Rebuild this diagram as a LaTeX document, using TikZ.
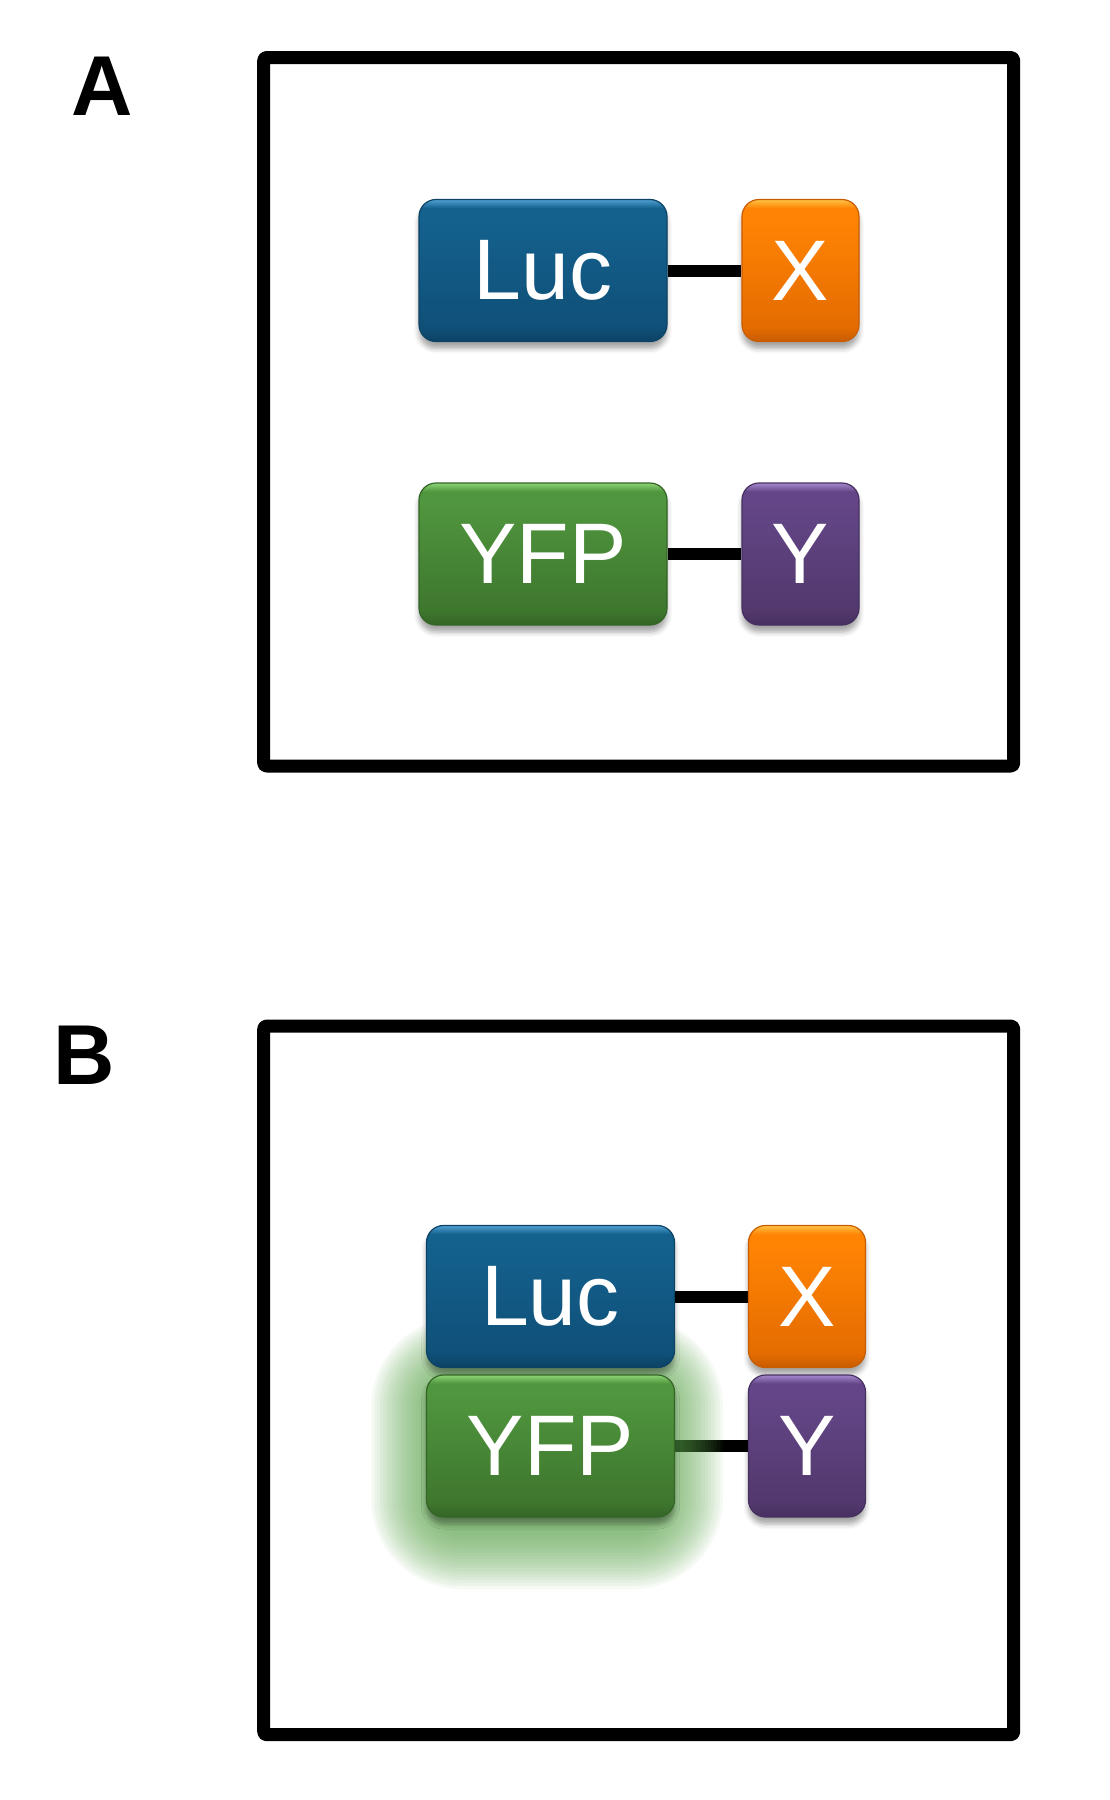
\documentclass[tikz,border=0pt]{standalone}
\usepackage{fontspec}
\setmainfont{Liberation Sans}
\usetikzlibrary{shadows.blur}

\definecolor{lucdark}{RGB}{12,66,100}
\definecolor{lucbot}{RGB}{15,80,120}
\definecolor{lucmain}{RGB}{20,97,142}
\definecolor{luclight}{RGB}{80,160,210}
\definecolor{xdark}{RGB}{200,92,0}
\definecolor{xbot}{RGB}{228,108,0}
\definecolor{xmain}{RGB}{255,132,4}
\definecolor{xlight}{RGB}{255,195,70}
\definecolor{yfpdark}{RGB}{52,100,38}
\definecolor{yfpbot}{RGB}{62,118,46}
\definecolor{yfpmain}{RGB}{80,150,62}
\definecolor{yfplight}{RGB}{140,212,118}
\definecolor{ydark}{RGB}{70,48,96}
\definecolor{ybot}{RGB}{82,56,108}
\definecolor{ymain}{RGB}{100,70,136}
\definecolor{ylight}{RGB}{165,135,205}
\definecolor{glowgreen}{RGB}{90,162,74}

\pgfdeclareverticalshading{lucshade}{100bp}{color(0bp)=(lucdark); color(25bp)=(lucdark); color(30bp)=(lucbot); color(68bp)=(lucmain); color(72bp)=(lucmain); color(75bp)=(luclight); color(100bp)=(luclight)}
\pgfdeclareverticalshading{xshade}{100bp}{color(0bp)=(xdark); color(25bp)=(xdark); color(30bp)=(xbot); color(68bp)=(xmain); color(72bp)=(xmain); color(75bp)=(xlight); color(100bp)=(xlight)}
\pgfdeclareverticalshading{yfpshade}{100bp}{color(0bp)=(yfpdark); color(25bp)=(yfpdark); color(30bp)=(yfpbot); color(68bp)=(yfpmain); color(72bp)=(yfpmain); color(75bp)=(yfplight); color(100bp)=(yfplight)}
\pgfdeclareverticalshading{yshade}{100bp}{color(0bp)=(ydark); color(25bp)=(ydark); color(30bp)=(ybot); color(68bp)=(ymain); color(72bp)=(ymain); color(75bp)=(ylight); color(100bp)=(ylight)}

\pgfdeclarelayer{lines}
\pgfdeclarelayer{glow}
\pgfsetlayers{lines,glow,main}

\tikzset{
    panel/.style={draw=black, line width=13pt, line join=round, rounded corners=3pt},
    panellabel/.style={font=\fontsize{85}{85}\selectfont\bfseries, inner sep=0pt},
    protbox/.style={rounded corners=17pt, inner sep=0pt, minimum height=142pt, text=white,
        font=\fontsize{86}{86}\selectfont,
        blur shadow={shadow xshift=0pt, shadow yshift=-7pt, shadow blur radius=5pt, shadow opacity=35}},
    lucbox/.style={protbox, minimum width=248pt, shading=lucshade, draw=lucdark, line width=1.2pt},
    yfpbox/.style={protbox, minimum width=248pt, shading=yfpshade, draw=yfpdark, line width=1.2pt},
    xbox/.style={protbox, minimum width=117pt, shading=xshade, draw=xdark, line width=1.2pt},
    ybox/.style={protbox, minimum width=117pt, shading=yshade, draw=ydark, line width=1.2pt},
    glowlayer/.style={fill=glowgreen, opacity=0.06}
}

\begin{document}
\begin{tikzpicture}[x=1pt, y=-1pt]
    \useasboundingbox (0,0) rectangle (1110,1800);

    % panel A
    \node[panellabel] (labA) at (102,86.5) {A};
    \draw[panel] (263.7,57.5) rectangle (1013.7,766);
    \node[lucbox] (luc1) at (543,270.5) {Luc};
    \node[xbox] (x1) at (800.5,270.5) {X};
    \node[yfpbox] (yfp1) at (543,554) {YFP};
    \node[ybox] (y1) at (800.5,554) {Y};

    % panel B
    \node[panellabel] (labB) at (84,1055.5) {B};
    \draw[panel] (263.7,1026) rectangle (1013.7,1734.7);
    \node[lucbox] (luc2) at (550.5,1296.5) {Luc};
    \node[xbox] (x2) at (807,1296.5) {X};
    \node[yfpbox] (yfp2) at (550.5,1446) {YFP};
    \node[ybox] (y2) at (807,1446) {Y};

    \begin{pgfonlayer}{lines}
        \begin{scope}[every edge/.style={draw, line width=12pt}]
            \path [-] (luc1) edge (x1);
            \path [-] (yfp1) edge (y1);
            \path [-] (luc2) edge (x2);
            \path [-] (yfp2) edge (y2);
        \end{scope}
    \end{pgfonlayer}

    % emission glow round YFP
    \begin{pgfonlayer}{glow}
        \foreach \d [evaluate=\d as \rc using 30+\d] in {0,3,...,60}
            \fill[glowlayer, rounded corners=\rc pt]
                ({547-116-\d},{1453-76-\d}) rectangle ({547+116+\d},{1453+76+\d});
    \end{pgfonlayer}
\end{tikzpicture}
\end{document}
